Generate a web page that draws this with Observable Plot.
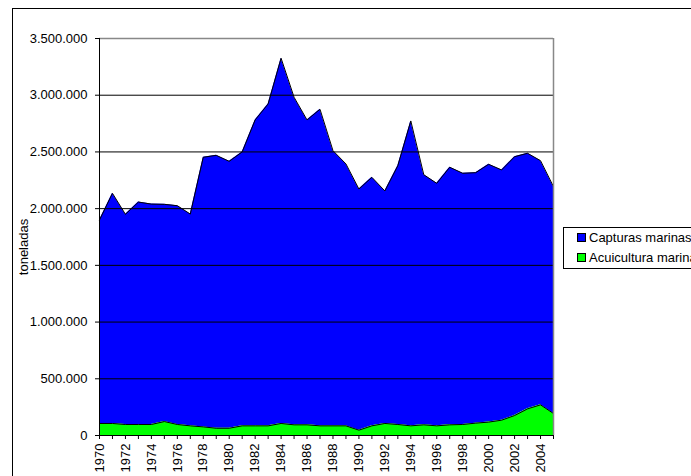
<!DOCTYPE html>
<html>
<head>
<meta charset="utf-8">
<script src="https://cdn.jsdelivr.net/npm/d3@7"></script>
<script src="https://cdn.jsdelivr.net/npm/@observablehq/plot@0.6"></script>
<style>
  html, body { margin: 0; padding: 0; background: white; overflow: hidden; }
  #wrap { position: relative; width: 691px; height: 476px; font-family: "Liberation Sans", Arial, sans-serif; }
  #frame { position: absolute; left: 12px; top: 8px; width: 760px; height: 560px; border: 1.5px solid #000; box-sizing: border-box; pointer-events: none; }
  #legend { position: absolute; left: 563px; top: 227px; width: 200px; height: 42px; border: 1px solid #000; background: white; box-sizing: border-box; font-size: 13px; }
  .item { position: absolute; left: 13px; height: 14px; line-height: 14px; white-space: nowrap; }
  .sw { display: inline-block; width: 7px; height: 7px; border: 1px solid #000; margin-right: 3px; vertical-align: 0px; }
</style>
</head>
<body>
<div id="wrap">
  <div id="chart"></div>
  <div id="frame"></div>
  <div id="legend"></div>
</div>
<script>
const years = d3.range(1970, 2006);
const seriesNames = ["Capturas marinas", "Acuicultura marina"];
const seriesColors = ["#0000ff", "#00ff00"];
const capturas = [1794000, 2029000, 1853000, 1961000, 1943000, 1915000, 1929000, 1867000, 2377000, 2406000,
  2353000, 2415000, 2697000, 2838000, 3220000, 2888000, 2688000, 2791000, 2426000, 2309000,
  2126000, 2191000, 2050000, 2282000, 2688000, 2205000, 2138000, 2271000, 2215000, 2208000,
  2273000, 2206000, 2282000, 2253000, 2153000, 2000000];
const acuicultura = [106000, 106000, 97000, 97000, 97000, 123000, 97000, 85000, 76000, 64000,
  64000, 85000, 85000, 85000, 106000, 94000, 94000, 85000, 85000, 85000,
  47000, 85000, 106000, 97000, 85000, 94000, 85000, 94000, 97000, 109000,
  118000, 135000, 176000, 235000, 270000, 194000];
const yTicks = [0, 500000, 1000000, 1500000, 2000000, 2500000, 3000000, 3500000];

const data = [];
years.forEach((yr, i) => {
  data.push({year: yr, series: seriesNames[0], value: capturas[i]});
  data.push({year: yr, series: seriesNames[1], value: acuicultura[i]});
});
const order = [seriesNames[1], seriesNames[0]];
const fmt = d => d3.format(",")(d).replace(/,/g, ".");

const chart = Plot.plot({
  width: 691,
  height: 476,
  marginLeft: 99,
  marginRight: 138,
  marginTop: 38,
  marginBottom: 41,
  style: {fontFamily: "Liberation Sans, Arial, sans-serif", fontSize: "13px", background: "transparent", color: "#000"},
  x: {domain: [1970, 2005]},
  y: {domain: [0, 3500000]},
  color: {domain: seriesNames, range: seriesColors},
  marks: [
    Plot.areaY(data, Plot.stackY({x: "year", y: "value", z: "series", fill: "series", order, curve: "linear"})),
    Plot.lineY(data, Plot.stackY2({x: "year", y: "value", z: "series", order, stroke: "#000", strokeWidth: 1})),
    Plot.ruleY(yTicks.filter(d => d > 0 && d < 3500000), {stroke: "#000", strokeWidth: 1}),
    Plot.ruleY([3500000], {stroke: "#888", strokeWidth: 1.5}),
    Plot.ruleX([2005], {stroke: "#888", strokeWidth: 1.5}),
    Plot.ruleX([1970], {stroke: "#000", strokeWidth: 1}),
    Plot.ruleY([0], {stroke: "#000", strokeWidth: 1}),
    Plot.axisY({ticks: yTicks, tickFormat: fmt, tickSize: 4, tickPadding: 8, label: null, fontSize: 13}),
    Plot.axisX({ticks: years, tickFormat: d => d % 2 === 0 ? String(d) : "", tickRotate: -90, tickSize: 4, tickPadding: 4, label: null, fontSize: 13}),
    Plot.text(["toneladas"], {frameAnchor: "left", textAnchor: "middle", dx: -76, dy: 10, rotate: -90, fontSize: 13, fill: "#000"})
  ]
});
document.getElementById("chart").appendChild(chart);

const legend = document.getElementById("legend");
seriesNames.forEach((name, i) => {
  const it = document.createElement("div");
  it.className = "item";
  it.style.top = (3 + i * 20) + "px";
  const sw = document.createElement("span");
  sw.className = "sw";
  sw.style.background = seriesColors[i];
  it.appendChild(sw);
  it.appendChild(document.createTextNode(name));
  legend.appendChild(it);
});
</script>
</body>
</html>
